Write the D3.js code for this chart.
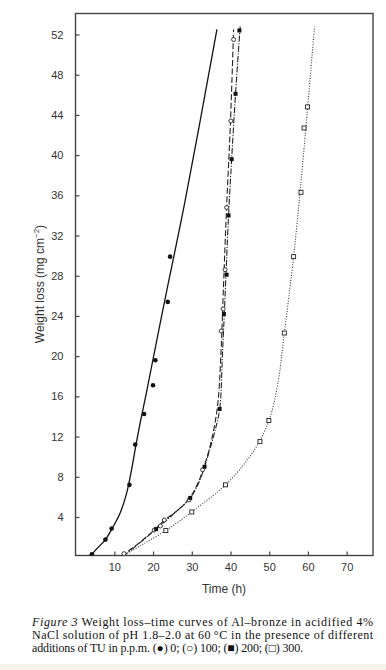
<!DOCTYPE html>
<html>
<head>
<meta charset="utf-8">
<script src="https://cdn.jsdelivr.net/npm/d3@7"></script>
<style>
  body { margin: 0; background: #fff; }
  svg { display: block; }
</style>
</head>
<body>
<svg width="386" height="670"></svg>
<script>
// measured points, [time h, weight loss mg cm-2]
var pts0 = [[4.2,0.3],[7.7,1.75],[9.3,2.85],[13.9,7.2],[15.4,11.2],[17.7,14.25],[20.0,17.1],[20.6,19.6],[23.8,25.4],[24.4,29.9]];
var pts100 = [[12.5,0.35],[20.3,2.7],[21.9,3.1],[22.9,3.7],[29.3,5.7],[32.8,8.7],[37.6,22.5],[38.1,24.7],[38.6,28.6],[39.0,34.8],[40.1,43.4],[40.8,51.5]];
var pts200 = [[20.8,2.8],[29.6,5.9],[33.3,9.0],[37.2,14.75],[38.3,24.2],[39.0,28.1],[39.5,34.0],[40.3,39.6],[41.3,46.1],[42.3,52.4]];
var pts300 = [[23.3,2.65],[30.0,4.5],[38.7,7.2],[47.6,11.5],[49.9,13.6],[53.9,22.3],[56.3,29.9],[58.2,36.3],[59.0,42.7],[59.9,44.8]];

// fitted curves drawn through the points
var fit0 = [[3.8,0.1],[5.5,0.85],[7.7,1.75],[9.5,2.9],[11.5,4.4],[13.2,6.4],[14.5,8.8],[15.6,11.2],[16.8,13.6],[18.2,16.2],[23,25.5],[28.3,35.5],[36.5,52.5]];
var fit100 = [[11.8,0.1],[16,1.3],[20.3,2.7],[23,3.7],[26.5,4.7],[29.3,5.8],[31.5,7.3],[33,8.8],[35.2,11.8],[36.7,15.2],[37.5,20],[38.1,26],[38.9,34],[40.0,43.4],[40.8,52.5]];
var fit200 = [[12.3,0.1],[16.5,1.4],[20.8,2.8],[25,4.2],[29.6,5.9],[31.8,7.4],[33.3,9.0],[35.6,12],[37.2,14.75],[37.9,20],[38.6,26],[39.5,34],[40.3,39.6],[41.3,46.1],[42.5,52.8]];
var fit300 = [[12.0,0.1],[17,1.2],[23.3,2.65],[30.0,4.5],[38.7,7.2],[44,9.5],[47.6,11.6],[50.2,13.9],[52.2,17.2],[53.9,22.3],[56.3,29.9],[58.6,39],[61.7,52.8]];

var xTicks = [10,20,30,40,50,60,70];
var yTicks = [4,8,12,16,20,24,28,32,36,40,44,48,52];

var svg = d3.select('svg');
var pLeft = 75.5, pRight = 373, pTop = 13.5, pBottom = 555.5;

var x = d3.scaleLinear().domain([0,76.8]).range([75.6,373]);
var y = d3.scaleLinear().domain([0,54.1]).range([557.2,13.4]);

// beige strip at page bottom
svg.append('rect').attr('x',0).attr('y',664).attr('width',386).attr('height',6).attr('fill','#f6f4e8');

svg.append('defs').append('clipPath').attr('id','plot')
    .append('rect').attr('x',pLeft).attr('y',pTop).attr('width',pRight-pLeft).attr('height',pBottom-pTop);

// axes (inward ticks)
var yAxis = d3.axisLeft(y).tickValues(yTicks).tickSize(-4).tickPadding(12);
var gy = svg.append('g').attr('transform','translate(' + pLeft + ',0)').call(yAxis);
var xAxis = d3.axisBottom(x).tickValues(xTicks).tickSize(-4).tickPadding(8);
var gx = svg.append('g').attr('transform','translate(0,' + pBottom + ')').call(xAxis);
[gx, gy].forEach(function(g) {
    g.select('.domain').remove();
    g.selectAll('line').attr('stroke','#444').attr('stroke-width',1.2);
    g.selectAll('text').attr('fill','#333').style('font-family','Liberation Sans, Arial, sans-serif').style('font-size','11px');
});

// frame
svg.append('rect').attr('x',pLeft).attr('y',pTop).attr('width',pRight-pLeft).attr('height',pBottom-pTop)
    .attr('fill','none').attr('stroke','#444').attr('stroke-width',1.4);

// curves
var line = d3.line().x(d => x(d[0])).y(d => y(d[1])).curve(d3.curveCatmullRom.alpha(0.5));
var plot = svg.append('g').attr('clip-path','url(#plot)');
plot.append('path').datum(fit0).attr('d',line).attr('fill','none').attr('stroke','#111').attr('stroke-width',1.3);
plot.append('path').datum(fit100).attr('d',line).attr('fill','none').attr('stroke','#222').attr('stroke-width',1.1).attr('stroke-dasharray','6,2.5');
plot.append('path').datum(fit200).attr('d',line).attr('fill','none').attr('stroke','#222').attr('stroke-width',1.1).attr('stroke-dasharray','6,1.5,1.2,1.5');
plot.append('path').datum(fit300).attr('d',line).attr('fill','none').attr('stroke','#333').attr('stroke-width',1.1).attr('stroke-dasharray','1,1.6');

// markers
plot.selectAll('.p0').data(pts0).enter().append('circle')
    .attr('cx', d => x(d[0])).attr('cy', d => y(d[1])).attr('r',2.3).attr('fill','#111');
plot.selectAll('.p100').data(pts100).enter().append('circle')
    .attr('cx', d => x(d[0])).attr('cy', d => y(d[1])).attr('r',2).attr('fill','#fff').attr('stroke','#222').attr('stroke-width',0.9);
plot.selectAll('.p200').data(pts200).enter().append('rect')
    .attr('x', d => x(d[0]) - 2).attr('y', d => y(d[1]) - 2).attr('width',4).attr('height',4).attr('fill','#111');
plot.selectAll('.p300').data(pts300).enter().append('rect')
    .attr('x', d => x(d[0]) - 2).attr('y', d => y(d[1]) - 2).attr('width',4).attr('height',4)
    .attr('fill','#fff').attr('stroke','#222').attr('stroke-width',0.9);

// axis titles
svg.append('text').attr('x',224).attr('y',593).attr('text-anchor','middle')
    .style('font-family','Liberation Sans, Arial, sans-serif').style('font-size','12px').attr('fill','#333')
    .text('Time (h)');
var yt = svg.append('text').attr('transform','translate(44,284) rotate(-90)').attr('text-anchor','middle')
    .style('font-family','Liberation Sans, Arial, sans-serif').style('font-size','12px').attr('fill','#333');
yt.append('tspan').text('Weight loss (mg cm');
yt.append('tspan').attr('dy',-5).style('font-size','8px').text('\u22122');
yt.append('tspan').attr('dy',5).text(')');

// caption
var cap = svg.append('g').style('font-family','Liberation Serif, Times New Roman, serif').style('font-size','12px').attr('fill','#111');
var c1 = cap.append('text').attr('x',32).attr('y',626).attr('textLength',341).attr('lengthAdjust','spacing');
c1.append('tspan').style('font-style','italic').text('Figure 3');
c1.append('tspan').text(' Weight loss\u2013time curves of Al\u2013bronze in acidified 4%');
cap.append('text').attr('x',32).attr('y',639).attr('textLength',341).attr('lengthAdjust','spacing')
    .text('NaCl solution of pH 1.8\u20132.0 at 60\u2009\u00b0C in the presence of different');
cap.append('text').attr('x',32).attr('y',652).attr('textLength',271).attr('lengthAdjust','spacing')
    .text('additions of TU in p.p.m. (\u25cf) 0; (\u25cb) 100; (\u25a0) 200; (\u25a1) 300.');
</script>
</body>
</html>
